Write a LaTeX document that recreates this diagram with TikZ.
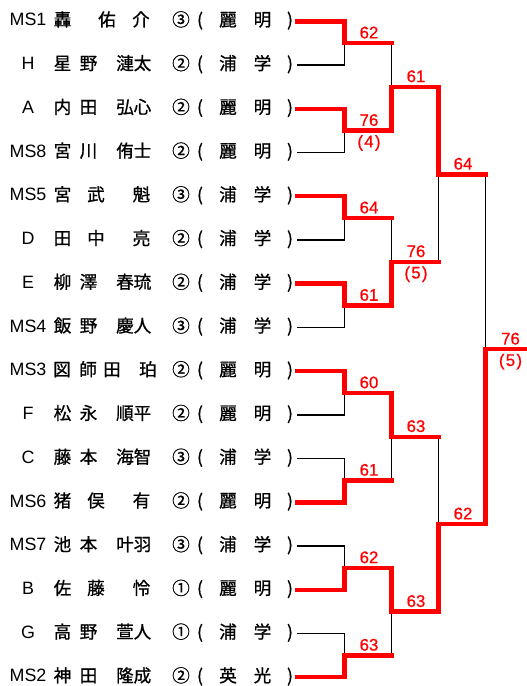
\documentclass[tikz,border=0pt]{standalone}
\usepackage{fontspec}
\setmainfont{Liberation Sans}
\newfontfamily\jpfont[FakeBold=0.9]{Noto Sans CJK JP}
\newfontfamily\scfont[FakeBold=0.7]{Liberation Sans}
\usetikzlibrary{calc}

\newcommand{\player}[6]{%
  \pgfmathsetmacro{\py}{21.3+43.73*(#1-1)}
  \node[seed] (s#1) at (28,\py) {#2};
  \foreach \x/\c [count=\k] in {#3} \node[jp] (n#1-\k) at (\x,\py) {\c};
  \node[jp] (g#1) at (181,\py) {#4};
  \node[jp] (l#1) at (200,\py) {(};
  \node[jp] (a#1) at (228,\py) {#5};
  \node[jp] (b#1) at (262.5,\py) {#6};
  \node[jp] (r#1) at (290,\py) {)};
  \coordinate (e#1) at (297,\py);
}

\begin{document}
\begin{tikzpicture}[x=0.75pt,y=-0.75pt,
  seed/.style={anchor=base,inner sep=0pt,yshift=-3.5pt,font=\fontsize{13.4}{15}\selectfont},
  jp/.style={anchor=base,inner sep=0pt,yshift=-3.6pt,font=\jpfont\fontsize{13.2}{15}\selectfont},
  score/.style={anchor=base,inner sep=0pt,yshift=3.6pt,text=red,font=\scfont\fontsize{12.6}{14}\selectfont},
  sets/.style={anchor=north,inner sep=0pt,yshift=-3.2pt,text=red,font=\scfont\fontsize{12.6}{14}\selectfont},
  lose/.style={line width=1.1pt},
  win/.style={red,line width=3.3pt,line cap=rect}]

  \useasboundingbox (0,0) rectangle (527,686);

  \player{1}{MS1}{62.5/轟,107/佑,141/介}{③}{麗}{明}
  \player{2}{H}{62.5/星,88.5/野,125/漣,142.5/太}{②}{浦}{学}
  \player{3}{A}{62.5/内,88.5/田,125/弘,142.5/心}{②}{麗}{明}
  \player{4}{MS8}{62.5/宮,88.5/川,125/侑,142.5/士}{②}{麗}{明}
  \player{5}{MS5}{62.5/宮,96/武,141.5/魁}{③}{浦}{学}
  \player{6}{D}{62.5/田,96/中,141.5/亮}{②}{浦}{学}
  \player{7}{E}{62.5/柳,88.5/澤,125/春,142.5/琉}{②}{浦}{学}
  \player{8}{MS4}{62.5/飯,88.5/野,125/慶,142.5/人}{③}{浦}{学}
  \player{9}{MS3}{62/図,88/師,112/田,148/珀}{②}{麗}{明}
  \player{10}{F}{62.5/松,88.5/永,125/順,142.5/平}{②}{麗}{明}
  \player{11}{C}{62.5/藤,88.5/本,125/海,142.5/智}{③}{浦}{学}
  \player{12}{MS6}{62.5/猪,96/俣,141.5/有}{②}{麗}{明}
  \player{13}{MS7}{62.5/池,88.5/本,125/叶,142.5/羽}{③}{浦}{学}
  \player{14}{B}{62.5/佐,96/藤,141.5/怜}{①}{麗}{明}
  \player{15}{G}{62.5/高,88.5/野,125/萱,142.5/人}{①}{浦}{学}
  \player{16}{MS2}{62.5/神,88.5/田,125/隆,142.5/成}{②}{英}{光}

  \foreach \i/\a/\b in {1/1/2,2/3/4,3/5/6,4/7/8,5/9/10,6/11/12,7/13/14,8/15/16}
    \coordinate (m\i) at ($(e\a)!.5!(e\b)+(47.5,0)$);
  \foreach \i/\a/\b in {1/1/2,2/3/4,3/5/6,4/7/8}
    \coordinate (p\i) at ($(m\a)!.5!(m\b)+(47,0)$);
  \coordinate (t1) at ($(p1)!.5!(p2)+(47,0)$);
  \coordinate (t2) at ($(p3)!.5!(p4)+(47,0)$);
  \coordinate (f) at ($(t1)!.5!(t2)+(47,0)$);
  \coordinate (w) at ($(f)+(42,0)$);

  \draw[lose] (e2) -| (m1);
  \draw[lose] (e4) -| (m2);
  \draw[lose] (e6) -| (m3);
  \draw[lose] (e8) -| (m4);
  \draw[lose] (e10) -| (m5);
  \draw[lose] (e11) -| (m6);
  \draw[lose] (e13) -| (m7);
  \draw[lose] (e15) -| (m8);
  \draw[lose] (m1 -| p1) -- (p1);
  \draw[lose] (m3 -| p2) -- (p2);
  \draw[lose] (m6 -| p3) -- (p3);
  \draw[lose] (m8 -| p4) -- (p4);
  \draw[lose] (p2 -| t1) -- (t1);
  \draw[lose] (p3 -| t2) -- (t2);
  \draw[lose] (t1 -| f) -- (f);

  \draw[win] (e1) -| (m1) -- (m1 -| p1);
  \draw[win] (e3) -| (m2) -| (p1) -| (t1) -- (t1 -| f);
  \draw[win] (e5) -| (m3) -- (m3 -| p2);
  \draw[win] (e7) -| (m4) -| (p2) -- (p2 -| t1);
  \draw[win] (e9) -| (m5) -| (p3) -- (p3 -| t2);
  \draw[win] (e12) -| (m6) -- (m6 -| p3);
  \draw[win] (e14) -| (m7) -| (p4) -| (t2) -| (f) -- (w);
  \draw[win] (e16) -| (m8) -- (m8 -| p4);

  \foreach \i/\sc in {1/62,2/76,3/64,4/61,5/60,6/61,7/62,8/63}
    \node[score] (sm\i) at ($(m\i)!.5!(m\i -| p1)+(1,0)$) {\sc};
  \foreach \i/\sc in {1/61,2/76,3/63,4/63}
    \node[score] (sp\i) at ($(p\i)!.5!(p\i -| t1)+(1,0)$) {\sc};
  \node[score] (st1) at ($(t1)!.5!(t1 -| f)+(1,0)$) {64};
  \node[score] (st2) at ($(t2)!.5!(t2 -| f)+(1,0)$) {62};
  \node[score] (sf) at ($(f)!.5!(w)+(4,0)$) {76};
  \node[sets] (xm2) at ($(m2)!.5!(m2 -| p1)+(1,0)$) {(\kern1pt4\kern1pt)};
  \node[sets] (xp2) at ($(p2)!.5!(p2 -| t1)+(1,0)$) {(\kern1pt5\kern1pt)};
  \node[sets] (xf) at ($(f)!.5!(w)+(4,0)$) {(\kern1pt5\kern1pt)};

\end{tikzpicture}
\end{document}
